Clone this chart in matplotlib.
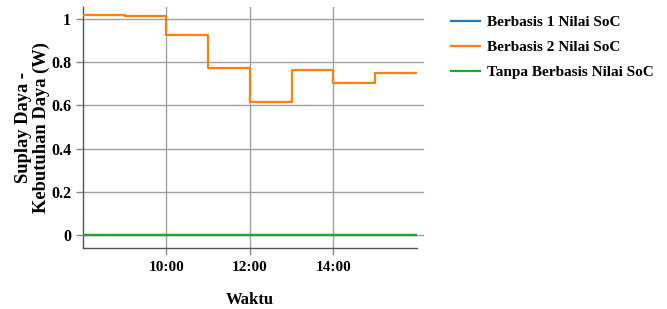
import matplotlib
matplotlib.use("Agg")
import matplotlib.pyplot as plt
from matplotlib.lines import Line2D

# Data
hours = [8, 9, 10, 11, 12, 13, 14, 15, 16]
berbasis1 = [0, 0, 0, 0, 0, 0, 0, 0, 0]
berbasis2 = [1.018, 1.015, 0.926, 0.772, 0.614, 0.762, 0.705, 0.751, 0.751]
tanpa = [0, 0, 0, 0, 0, 0, 0, 0, 0]
series_names = ["Berbasis 1 Nilai SoC", "Berbasis 2 Nilai SoC", "Tanpa Berbasis Nilai SoC"]
xtick_pos = [10, 12, 14]
xtick_labels = ["10:00", "12:00", "14:00"]
ytick_pos = [0, 0.2, 0.4, 0.6, 0.8, 1.0]
ytick_labels = ["0", "0.2", "0.4", "0.6", "0.8", "1"]

plt.rcParams['font.family'] = ['Liberation Serif', 'DejaVu Serif']
plt.rcParams['font.weight'] = 'bold'

fig = plt.figure(figsize=(6.67, 3.09), dpi=100)
ax = fig.add_axes([0.1244, 0.197, 0.5006, 0.78])

colors = ["#1f77b4", "#ff7f0e", "#2ca02c"]
for vals, c, name in zip([berbasis1, berbasis2, tanpa], colors, series_names):
    ax.step(hours, vals, where='post', color=c, lw=1.6, label=name, zorder=3)

ax.set_xlim(8, 16)
ax.set_ylim(-0.06, 1.055)

ax.set_xticks(xtick_pos)
ax.set_xticklabels(xtick_labels, fontsize=11, fontweight='bold')
ax.set_yticks(ytick_pos)
ax.set_yticklabels(ytick_labels, fontsize=11.5, fontweight='bold')

# grid
for y in ytick_pos:
    ax.plot([0, 1.018], [y, y], transform=ax.get_yaxis_transform(), color="#a0a0a0",
            lw=1.0, clip_on=False, zorder=1)
ax.xaxis.grid(True, color="#a0a0a0", lw=1.0)
ax.set_axisbelow(True)

for s in ['top', 'right']:
    ax.spines[s].set_visible(False)
for s in ['left', 'bottom']:
    ax.spines[s].set_color("#555555")
    ax.spines[s].set_linewidth(1.0)
ax.tick_params(axis='both', length=5, color="#888888", width=1.0)
ax.tick_params(axis='x', pad=4.5)
ax.tick_params(axis='y', pad=3.5)

ax.set_xlabel("Waktu", fontsize=12, fontweight='bold', labelpad=13)
ax.set_ylabel("Suplay Daya -\nKebutuhan Daya (W)", fontsize=13.3, fontweight='bold',
              labelpad=1, linespacing=1.0)

handles = [Line2D([], [], color=c, lw=1.6) for c in colors]
leg = fig.legend(handles, series_names, loc='upper left', bbox_to_anchor=(0.656, 0.995),
                 frameon=False, prop={'weight': 'bold', 'size': 11},
                 handlelength=1.9, handletextpad=0.45, labelspacing=0.75)

fig.savefig("out.png", dpi=100)
